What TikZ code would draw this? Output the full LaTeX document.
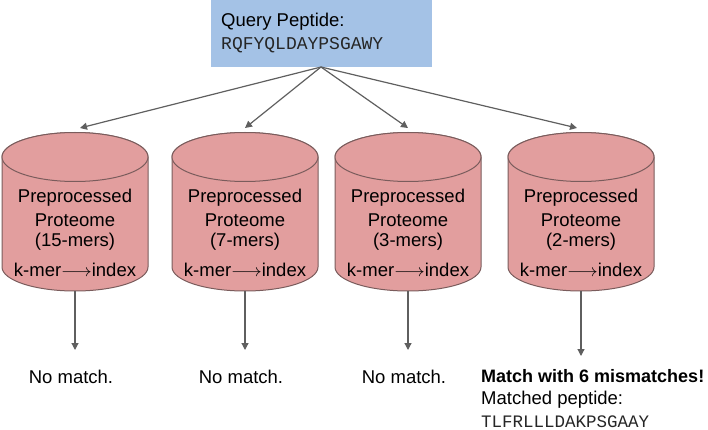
\documentclass[tikz,border=0pt]{standalone}
\usepackage{fontspec}
\setmainfont{Liberation Sans}
\setmonofont{Liberation Mono}
\usetikzlibrary{arrows.meta}
\definecolor{qblue}{HTML}{A4C2E6}
\definecolor{cylfill}{HTML}{E29E9E}
\definecolor{cyledge}{HTML}{7A5C5C}
\definecolor{arrgray}{HTML}{5F5F5F}
\tikzset{
  lbl/.style={font=\fontsize{18.5}{21}\selectfont, inner sep=0pt, text=black},
  mono/.style={font=\ttfamily\fontsize{18}{21}\selectfont, inner sep=0pt, text=black!85},
  conn/.style={draw=arrgray, line width=1.2pt, -{Triangle[length=7pt,width=7pt]}},
  cylbody/.style={fill=cylfill, draw=cyledge, line width=1pt},
}
\begin{document}
\begin{tikzpicture}[x=1pt,y=-1pt]
\useasboundingbox (0,0) rectangle (708,430);
% query box
\fill[qblue] (211,-2) rectangle (432,67);
\node[lbl, anchor=west] (q) at (221,22) {Query Peptide:};
\node[mono, anchor=west] (qs) at (221,45) {RQFYQLDAYPSGAWY};
\coordinate (src) at (321,67);
% cylinders
\foreach \cx/\k/\n/\tx in {75/15/1/80, 245/7/2/245, 408/3/3/408, 581/2/4/577}{
  \path[cylbody] (\cx-73,157) -- (\cx-73,267)
     arc[start angle=180, end angle=360, x radius=73pt, y radius=24pt]
     -- (\cx+73,157)
     arc[start angle=0, end angle=180, x radius=73pt, y radius=24.5pt] -- cycle;
  \path[cylbody] (\cx,157) ellipse [x radius=73pt, y radius=24.5pt];
  \node[lbl] (pa\n) at (\cx,198) {Preprocessed};
  \node[lbl] (pb\n) at (\cx,220) {Proteome};
  \node[lbl] (pc\n) at (\cx,242) {(\k-mers)};
  \node[lbl] (pd\n) at (\cx,270) {k-mer\raisebox{0.5pt}{\scalebox{1.1}[1]{$\longrightarrow$}}index};
  \coordinate (top\n) at (\tx,128);
  \coordinate (bot\n) at (\cx,291);
  \draw[conn] (src) -- (top\n);
}
% outputs
\node[lbl] (n1) at (71,377) {No match.};
\node[lbl] (n2) at (241,377) {No match.};
\node[lbl] (n3) at (404,377) {No match.};
\coordinate (e1) at (75,350);
\coordinate (e2) at (245,350);
\coordinate (e3) at (408,350);
\coordinate (e4) at (581,356);
\foreach \n in {1,2,3,4}{\draw[conn] (bot\n) -- (e\n);}
\node[lbl, anchor=west, font=\bfseries\fontsize{18}{21}\selectfont] (m1) at (481,376) {Match with 6 mismatches!};
\node[lbl, anchor=west] (m2) at (481,400) {Matched peptide:};
\node[mono, anchor=west, font=\ttfamily\fontsize{17.5}{21}\selectfont] (m3) at (481,422) {TLFRLLLDAKPSGAAY};
\end{tikzpicture}
\end{document}
